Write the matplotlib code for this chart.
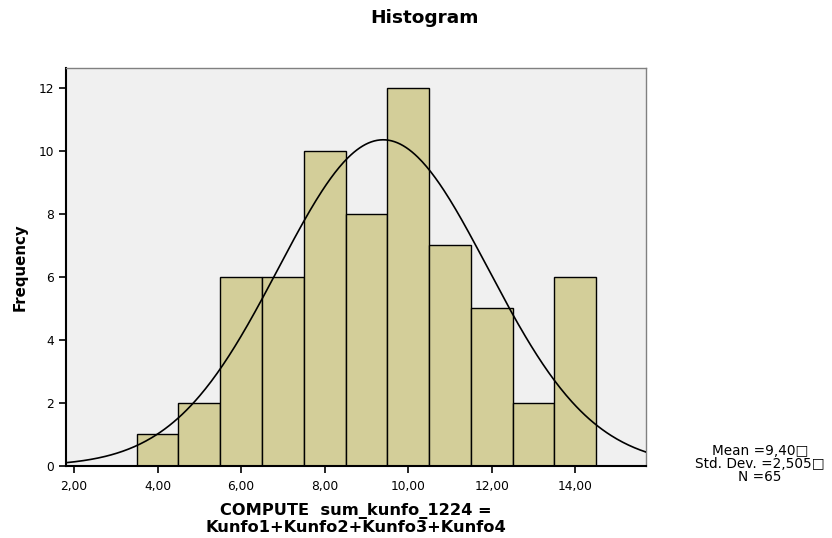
import numpy as np
import matplotlib
matplotlib.use("Agg")
import matplotlib.pyplot as plt

plt.rcParams['font.family'] = ['DejaVu Sans']

bin_centers = [4, 5, 6, 7, 8, 9, 10, 11, 12, 13, 14]
counts = [1, 2, 6, 6, 10, 8, 12, 7, 5, 2, 6]
mean = 9.40
std = 2.505
n = 65
x_ticks = [2, 4, 6, 8, 10, 12, 14]
x_ticklabels = ["2,00", "4,00", "6,00", "8,00", "10,00", "12,00", "14,00"]
y_ticks = [0, 2, 4, 6, 8, 10, 12]

W, H = 832, 538
fig = plt.figure(figsize=(W / 100, H / 100), dpi=100)
ax = fig.add_axes([66 / W, 1 - 466 / H, (646 - 66) / W, (466 - 68) / H])
ax.set_facecolor('#F0F0F0')

ax.bar(bin_centers, counts, width=1.0, color='#D3CE99', edgecolor='black', linewidth=1.0, zorder=2)

xmin, xmax = 1.81, 15.69
xs = np.linspace(xmin, xmax, 400)
ys = n * 1.0 * np.exp(-0.5 * ((xs - mean) / std) ** 2) / (std * np.sqrt(2 * np.pi))
ax.plot(xs, ys, color='black', linewidth=1.2, zorder=3)

ax.set_xlim(xmin, xmax)
ax.set_ylim(0, 12.63)
ax.set_xticks(x_ticks)
ax.set_xticklabels(x_ticklabels, fontsize=8.8)
ax.set_yticks(y_ticks)
ax.set_yticklabels([str(v) for v in y_ticks], fontsize=8.8)
ax.tick_params(axis='both', direction='out', length=5, width=1.2, color='black')
ax.tick_params(axis='x', pad=5)

for s in ['left', 'bottom']:
    ax.spines[s].set_color('black')
    ax.spines[s].set_linewidth(1.5)
for s in ['top', 'right']:
    ax.spines[s].set_color('#808080')
    ax.spines[s].set_linewidth(1.0)

fig.text(20 / W, 1 - 267 / H, 'Frequency', rotation=90, ha='center', va='center',
         fontsize=10.8, fontweight='bold')

fig.text(356 / W, 1 - 519 / H, 'COMPUTE  sum_kunfo_1224 =\nKunfo1+Kunfo2+Kunfo3+Kunfo4',
         ha='center', va='center', fontsize=11.7, fontweight='bold', linespacing=1.12)

fig.text(425 / W, 1 - 18 / H, 'Histogram', ha='center', va='center', fontsize=13.3, fontweight='bold')

fig.text(760 / W, 1 - 464 / H, 'Mean =9,40\u25a1\nStd. Dev. =2,505\u25a1\nN =65', ha='center', va='center',
         fontsize=9.8, linespacing=0.94)

fig.savefig('out.png', dpi=100)
